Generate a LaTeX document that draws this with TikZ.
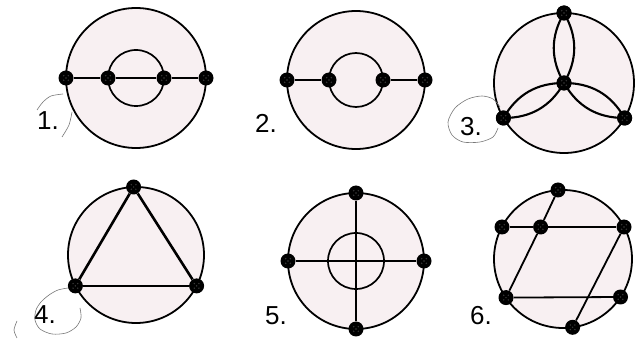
\documentclass[tikz,border=0pt]{standalone}
\usepackage{fontspec}
\setmainfont{Liberation Sans}
\usetikzlibrary{calc}
\definecolor{pinkbg}{RGB}{248,240,242}
\definecolor{pencil}{RGB}{120,120,120}
\tikzset{
  vtx/.style={circle, fill=black, inner sep=0pt, minimum size=15pt,
    path picture={\foreach \dx/\dy in {-2.3/-2.3,2.3/-2.3,-2.3/2.3,2.3/2.3,0/0}{
      \fill[gray!45!black] ([shift={(\dx pt,\dy pt)}]path picture bounding box.center) circle (0.8pt);}}},
  ring/.style={draw=black, line width=1.8pt, fill=pinkbg},
  inner/.style={draw=black, line width=1.7pt},
  edge/.style={draw=black, line width=1.8pt},
  thickedge/.style={draw=black, line width=2.6pt},
  petal/.style={draw=black, line width=2.1pt},
  lbl/.style={font=\fontsize{26}{26}\selectfont, inner sep=0pt},
  hand/.style={draw=pencil, line width=0.6pt}
}
\begin{document}
\begin{tikzpicture}[x=1pt,y=-1pt]
\useasboundingbox (0,0) rectangle (638,339);
\fill[white] (0,0) rectangle (638,339);

% ---------- Figure 1 ----------
\coordinate (O1) at (136,78);
\draw[ring] (O1) circle (70);
\draw[inner] (O1) circle (28);
\node[vtx] (a1) at (66,78) {};
\node[vtx] (b1) at (108,78) {};
\node[vtx] (c1) at (164,78) {};
\node[vtx] (d1) at (206,78) {};
\draw[edge] (a1) -- (b1) -- (c1) -- (d1);
\node[lbl] (l1) at (48,121) {1.};
\draw[hand] plot[smooth] coordinates {(63,94) (51,96) (43,102) (37,110)};
\draw[hand] plot[smooth] coordinates {(72,112) (69,125) (62,137)};

% ---------- Figure 2 ----------
\coordinate (O2) at (356,80);
\draw[ring] (O2) circle (69);
\draw[inner] (O2) circle (27);
\node[vtx] (a2) at (287,80) {};
\node[vtx] (b2) at (329,80) {};
\node[vtx] (c2) at (383,80) {};
\node[vtx] (d2) at (425,80) {};
\draw[edge] (a2) -- (b2);
\draw[edge] (c2) -- (d2);
\node[lbl] (l2) at (266,123) {2.};

% ---------- Figure 3 ----------
\coordinate (O3) at (564,83);
\draw[ring] (O3) circle (70);
\node[vtx] (c3) at (564,83) {};
\node[vtx] (t3) at (564,13) {};
\node[vtx] (l3) at (503.4,118) {};
\node[vtx] (r3) at (624.6,118) {};
\foreach \n in {t3,l3,r3}{
  \draw[petal] (c3.center) to[bend left=30] (\n.center);
  \draw[petal] (c3.center) to[bend right=30] (\n.center);
}
\node[vtx] at (c3) {};
\node[vtx] at (t3) {};
\node[vtx] at (l3) {};
\node[vtx] at (r3) {};
\node[lbl] (lb3) at (471,127) {3.};
\draw[hand] plot[smooth] coordinates {(500,107) (493,99) (482,96) (468,99) (455,108) (448,122) (452,135) (463,142) (480,142) (493,137) (498,128)};

% ---------- Figure 4 ----------
\coordinate (O4) at (136,255);
\draw[ring] (O4) circle (68);
\node[vtx] (t4) at (133.6,187) {};
\node[vtx] (l4) at (75.4,285.9) {};
\node[vtx] (r4) at (196.6,285.9) {};
\draw[thickedge] (l4) -- (t4) -- (r4);
\draw[edge, line width=2.2pt] (l4) -- (r4);
\node[lbl] (lb4) at (45,315) {4.};
\draw[hand] plot[smooth] coordinates {(68,288) (58,290) (49,295) (41,302) (36,310) (35,320) (40,329) (52,334) (66,333) (76,327) (81,318) (80,308)};
\draw[hand] plot[smooth] coordinates {(17,321) (14,330) (17,338)};

% ---------- Figure 5 ----------
\coordinate (O5) at (356,261);
\draw[ring] (O5) circle (68);
\draw[inner] (O5) circle (28);
\node[vtx] (t5) at (356,193) {};
\node[vtx] (b5) at (356,329) {};
\node[vtx] (l5) at (288,261) {};
\node[vtx] (r5) at (424,261) {};
\draw[edge] (t5) -- (b5);
\draw[edge] (l5) -- (r5);
\node[lbl] (lb5) at (276,316) {5.};

% ---------- Figure 6 ----------
\coordinate (O6) at (563,259);
\draw[ring] (O6) circle (69);
\node[vtx] (A6) at (558,190) {};
\node[vtx] (B6) at (502,227) {};
\node[vtx] (D6) at (624,227) {};
\node[vtx] (E6) at (506,297.6) {};
\node[vtx] (F6) at (620.5,297) {};
\node[vtx] (G6) at (572.6,327.3) {};
\node[vtx] (C6) at (540.6,227) {};
\draw[edge] (A6) -- (C6) -- (E6);
\draw[edge] (B6) -- (C6) -- (D6);
\draw[edge] (E6) -- (F6);
\draw[edge] (D6) -- (G6);
\node[lbl] (lb6) at (481,316) {6.};
\end{tikzpicture}
\end{document}
